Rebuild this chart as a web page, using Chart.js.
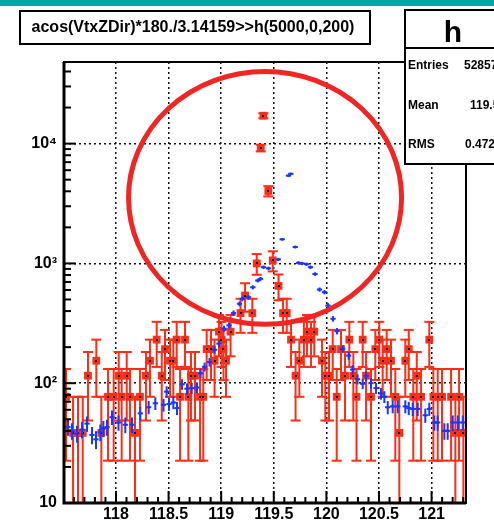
<!DOCTYPE html>
<html><head><meta charset="utf-8">
<script src="https://cdn.jsdelivr.net/npm/chart.js@4.4.1/dist/chart.umd.min.js"></script>
<style>html,body{margin:0;padding:0;background:#fff;overflow:hidden}canvas{display:block}</style>
</head><body>
<canvas id="c" width="494" height="524"></canvas>
<script>
// ---------- data ----------
const titleText = 'acos(VtxZDir)*180./3.14159>>h(5000,0,200)';
const statsName = 'h';
const statsLabels = ['Entries', 'Mean', 'RMS'];
const statsValues = ['52857', '119.5', '0.4723'];

const xTicks = [118, 118.5, 119, 119.5, 120, 120.5, 121];
const xTickLabels = ['118', '118.5', '119', '119.5', '120', '120.5', '121'];
const yTicks = [10, 100, 1000, 10000];
const yTickLabels = ['10', '10\u00B2', '10\u00B3', '10\u2074'];
const xRange = [117.506, 121.327];
const yRange = [10, 48000];

// red histogram (weighted entries, ~38.5 per entry)
const redWeight = 38.5;
const redX = [117.525,117.592,117.639,117.684,117.734,117.813,117.861,117.924,117.978,118.026,
  118.054,118.102,118.133,118.181,118.228,118.285,118.323,118.387,118.435,118.466,
  118.514,118.545,118.577,118.609,118.656,118.688,118.713,118.751,118.799,118.830,
  118.862,118.903,118.937,118.979,119.003,119.022,119.046,119.089,119.184,119.227,
  119.296,119.338,119.376,119.401,119.448,119.490,119.545,119.588,119.623,119.664,
  119.707,119.743,119.786,119.816,119.854,119.885,119.958,119.990,120.025,120.060,
  120.098,120.139,120.177,120.218,120.256,120.286,120.345,120.377,120.424,120.465,
  120.503,120.535,120.573,120.614,120.655,120.693,120.750,120.783,120.826,120.859,
  120.900,120.978,121.017,121.058,121.099,121.185,121.226,121.261,121.302];
const redY = [77,38.5,38.5,38.5,115.5,154,38.5,77,77,115.5,
  77,115.5,77,38.5,77,115.5,154,231,115.5,192.5,
  154,154,231,77,231,77,115.5,115.5,77,77,
  192.5,192.5,154,269.5,231,192.5,154,269.5,385,539,
  385,1000,9200,17100,4020,1060,650,385,385,231,
  115.5,154,231,269.5,231,269.5,154,115.5,115.5,192.5,
  77,192.5,115.5,231,115.5,77,231,115.5,77,192.5,
  231,154,192.5,154,77,38.5,154,192.5,77,115.5,
  77,231,77,77,77,77,38.5,77,38.5];

// blue histogram
const blueX = [117.544,117.582,117.630,117.677,117.725,117.772,117.810,117.851,117.880,117.915,
  117.962,118.024,118.089,118.152,118.231,118.311,118.374,118.452,118.482,118.504,
  118.545,118.580,118.628,118.675,118.720,118.770,118.804,118.842,118.889,118.937,
  118.979,119.027,119.074,119.117,119.174,119.201,119.260,119.301,119.348,119.374,
  119.402,119.450,119.543,119.580,119.640,119.662,119.704,119.735,119.768,119.811,
  119.849,119.892,119.935,119.982,120.015,120.063,120.101,120.155,120.212,120.250,
  120.296,120.345,120.377,120.424,120.472,120.519,120.551,120.583,120.630,120.678,
  120.750,120.783,120.821,120.868,120.940,120.978,121.026,121.058,121.121,121.153,
  121.201,121.249,121.296];
const blueY = [43,40,38,41,46,37,34,39,42,43,
  52,47,45,45,56,63,68,66,85,67,
  69,62,98,90,91,92,121,137,150,190,
  214,285,304,385,460,506,522,632,720,743,
  930,910,1080,1590,5400,5600,1370,1010,1000,985,
  930,815,605,575,445,345,272,194,170,130,
  108,99,115,100,91,82,77,63,64,64,
  64,62,61,61,54,61,47,47,40,40,
  47,47,47];

// highlight ellipse (data coordinates: centre x, centre y, half-width in x, half-height in decades)
const ellipseCx = 119.417, ellipseCy = 3525, ellipseRx = 1.2976, ellipseRyDec = 1.055;

// ---------- styles ----------
const RED = 'rgb(255,45,22)';
const BLUE = 'rgb(25,55,255)';
const FONT = '"Liberation Sans", Arial, sans-serif';

const rootPlugin = {
  id: 'rootStyle',
  beforeDraw(chart) {
    const c = chart.ctx;
    c.save();
    c.fillStyle = '#fff'; c.fillRect(0, 0, chart.width, chart.height);
    c.fillStyle = '#00a9a6'; c.fillRect(0, 0, chart.width, 6);
    c.restore();
  },
  beforeDatasetDraw(chart, args) {
    const c = chart.ctx, xs = chart.scales.x, ys = chart.scales.y, a = chart.chartArea;
    c.save();
    c.beginPath(); c.rect(a.left, a.top, a.right - a.left, a.bottom - a.top); c.clip();
    if (args.index === 0) {
      c.strokeStyle = RED; c.lineWidth = 2;
      redX.forEach((x, i) => {
        const v = redY[i], e = Math.sqrt(v * redWeight);
        const px = xs.getPixelForValue(x), py = ys.getPixelForValue(v);
        const pHi = ys.getPixelForValue(v + e);
        const lo = v - e;
        const pLo = lo > 0.5 ? ys.getPixelForValue(lo) : a.bottom + 5;
        c.beginPath(); c.moveTo(px, pLo); c.lineTo(px, pHi); c.stroke();
        c.beginPath(); c.moveTo(px - 5, pHi); c.lineTo(px + 5, pHi); c.stroke();
        if (lo > 0.5) { c.beginPath(); c.moveTo(px - 5, pLo); c.lineTo(px + 5, pLo); c.stroke(); }
        const h1 = xs.getPixelForValue(x - 0.025), h2 = xs.getPixelForValue(x + 0.025);
        c.beginPath(); c.moveTo(h1, py); c.lineTo(h2, py); c.stroke();
      });
    } else {
      c.strokeStyle = BLUE; c.lineWidth = 2;
      blueX.forEach((x, i) => {
        const v = blueY[i], e = Math.sqrt(v);
        const px = xs.getPixelForValue(x), py = ys.getPixelForValue(v);
        c.beginPath(); c.moveTo(px, ys.getPixelForValue(v - e)); c.lineTo(px, ys.getPixelForValue(v + e)); c.stroke();
        const h1 = xs.getPixelForValue(x - 0.025), h2 = xs.getPixelForValue(x + 0.025);
        c.beginPath(); c.moveTo(h1, py); c.lineTo(h2, py); c.stroke();
      });
    }
    c.restore();
  },
  afterDatasetDraw(chart, args) {
    if (args.index !== 0) return;
    const c = chart.ctx, xs = chart.scales.x, ys = chart.scales.y;
    c.save(); c.fillStyle = '#000';
    redX.forEach((x, i) => {
      const px = xs.getPixelForValue(x), py = ys.getPixelForValue(redY[i]);
      c.fillRect(Math.round(px) - 1, Math.round(py) - 1, 2, 2);
    });
    c.restore();
  },
  afterDatasetsDraw(chart) {
    const c = chart.ctx, xs = chart.scales.x, ys = chart.scales.y, a = chart.chartArea;
    c.save();
    // frame
    c.strokeStyle = '#000';
    c.lineWidth = 2;
    c.strokeRect(a.left, a.top, a.right - a.left, a.bottom - a.top);
    c.lineWidth = 3;
    c.beginPath(); c.moveTo(a.left, a.top); c.lineTo(a.left, a.bottom); c.lineTo(a.right, a.bottom); c.stroke();
    // y ticks (inward)
    c.lineWidth = 2;
    for (let d = 1; d <= 4; d++) {
      for (let m = 1; m <= 9; m++) {
        const v = m * Math.pow(10, d);
        if (v < yRange[0] || v > yRange[1]) continue;
        const py = ys.getPixelForValue(v), len = m === 1 ? 12 : 7;
        c.beginPath(); c.moveTo(a.left, py); c.lineTo(a.left + len, py); c.stroke();
      }
    }
    // x ticks (inward)
    for (let k = Math.ceil(xRange[0] * 10); k <= Math.floor(xRange[1] * 10); k++) {
      const px = xs.getPixelForValue(k / 10), len = k % 5 === 0 ? 12 : 6;
      c.beginPath(); c.moveTo(px, a.bottom); c.lineTo(px, a.bottom - len); c.stroke();
    }
    // highlight ellipse
    const cx = xs.getPixelForValue(ellipseCx), cy = ys.getPixelForValue(ellipseCy);
    const rx = xs.getPixelForValue(ellipseCx + ellipseRx) - cx;
    const ry = cy - ys.getPixelForValue(ellipseCy * Math.pow(10, ellipseRyDec));
    c.strokeStyle = 'rgb(240,38,36)'; c.lineWidth = 5;
    c.beginPath(); c.ellipse(cx, cy, rx, ry, 0, 0, Math.PI * 2); c.stroke();
    // title box
    c.fillStyle = '#fff'; c.fillRect(20, 11, 350, 33);
    c.strokeStyle = '#000'; c.lineWidth = 2; c.strokeRect(20, 11, 350, 33);
    c.fillStyle = '#000'; c.font = 'bold 16px ' + FONT; c.textBaseline = 'middle'; c.textAlign = 'center';
    c.fillText(titleText, 193, 28);
    // stats box
    c.fillStyle = '#fff'; c.fillRect(405, 10, 100, 154);
    c.strokeStyle = '#000'; c.lineWidth = 2; c.strokeRect(405, 10, 100, 154);
    c.beginPath(); c.moveTo(405, 48); c.lineTo(505, 48); c.stroke();
    c.fillStyle = '#000'; c.textBaseline = 'alphabetic';
    c.font = 'bold 30px ' + FONT; c.textAlign = 'center';
    c.fillText(statsName, 453, 42);
    c.font = 'bold 12px ' + FONT; c.textAlign = 'left';
    const rowsY = [69, 109, 148], valX = [464, 470, 465];
    statsLabels.forEach((t, i) => { c.fillText(t, 408, rowsY[i]); c.fillText(statsValues[i], valX[i], rowsY[i]); });
    c.restore();
  }
};

const gridOpts = { color: '#111', lineWidth: 1.5, drawTicks: false };
new Chart(document.getElementById('c'), {
  type: 'scatter',
  data: { datasets: [
    { label: 'red', data: redX.map((x, i) => ({ x, y: redY[i] })), pointStyle: 'rect', pointRadius: 5.5,
      backgroundColor: RED, borderWidth: 0, order: 2 },
    { label: 'blue', data: blueX.map((x, i) => ({ x, y: blueY[i] })), pointStyle: 'circle', pointRadius: 1.3,
      backgroundColor: BLUE, borderWidth: 0, order: 1 }
  ]},
  options: {
    responsive: false, animation: false, devicePixelRatio: 1,
    layout: { padding: { top: 62, right: 28, left: 0, bottom: 0 } },
    plugins: { legend: { display: false }, tooltip: { enabled: false } },
    scales: {
      x: {
        type: 'linear', min: xRange[0], max: xRange[1],
        afterBuildTicks: s => { s.ticks = xTicks.map(v => ({ value: v })); },
        afterFit: s => { s.height = 21; },
        ticks: { callback: v => xTickLabels[xTicks.indexOf(v)] ?? '', color: '#000', padding: 2,
          maxRotation: 0, autoSkip: false, font: { family: FONT, size: 16, weight: 'bold' } },
        grid: gridOpts, border: { display: false, dash: [2, 3] }
      },
      y: {
        type: 'logarithmic', min: yRange[0], max: yRange[1],
        afterBuildTicks: s => { s.ticks = yTicks.map(v => ({ value: v })); },
        afterFit: s => { s.width = 64; },
        ticks: { callback: v => yTickLabels[yTicks.indexOf(v)] ?? '', color: '#000', padding: 7,
          autoSkip: false, font: { family: FONT, size: 16, weight: 'bold' } },
        grid: gridOpts, border: { display: false, dash: [2, 3] }
      }
    }
  },
  plugins: [rootPlugin]
});
</script>
</body></html>
